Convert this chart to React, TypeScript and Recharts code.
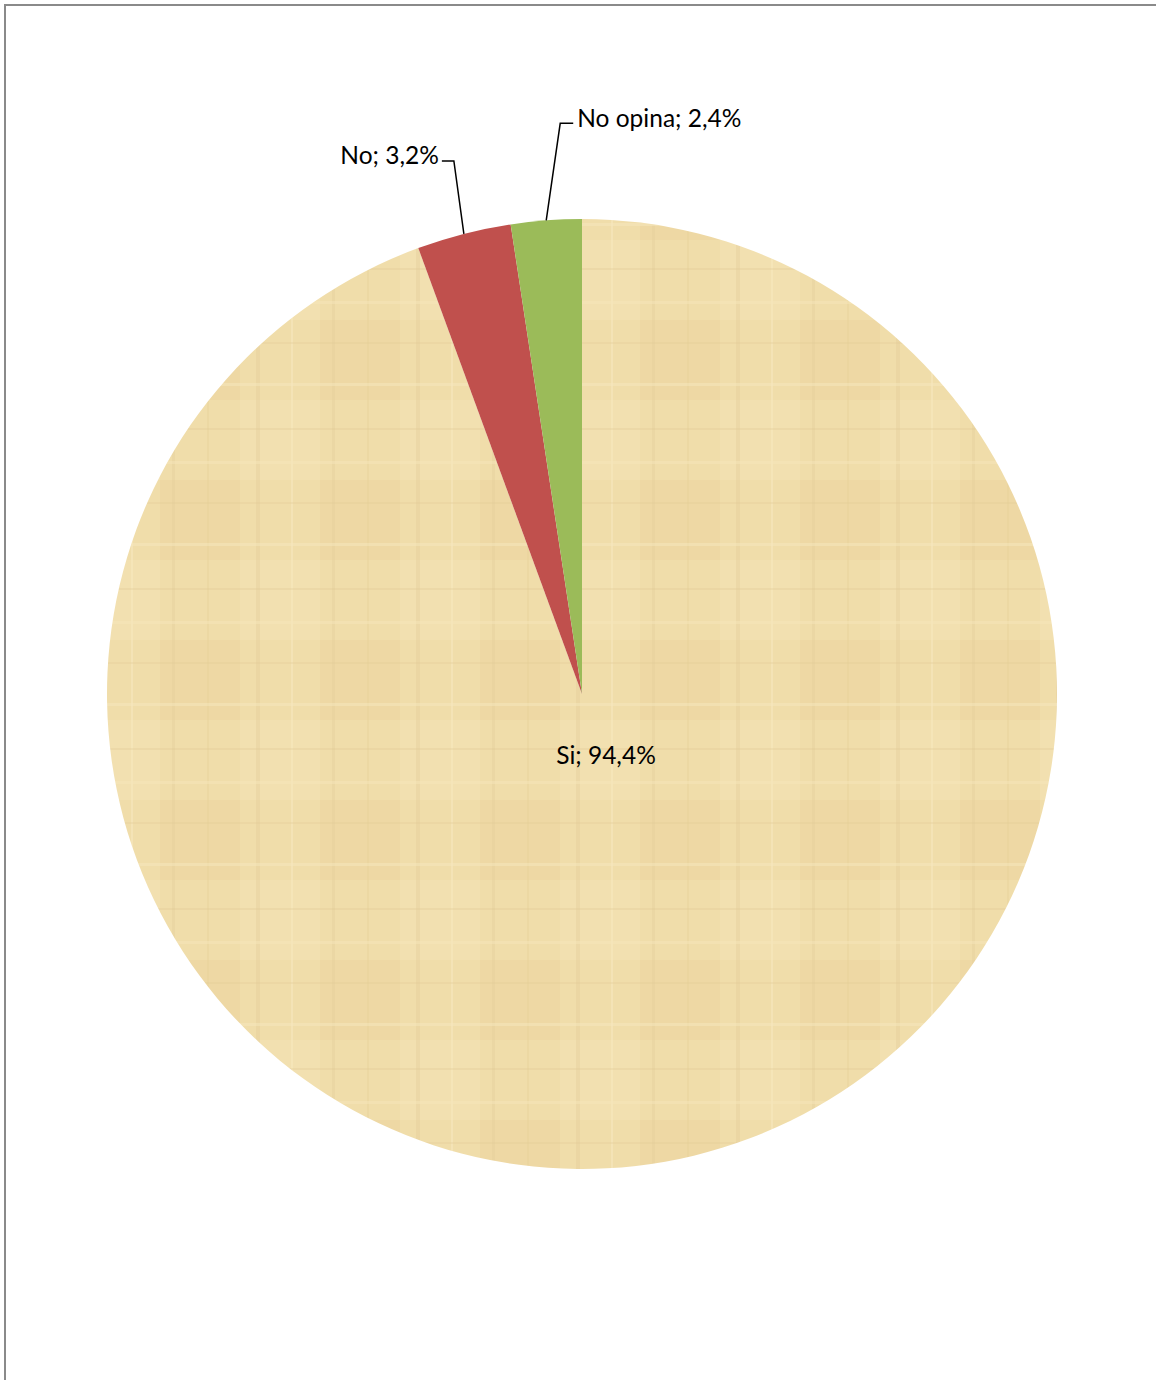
import React from "react";
import { PieChart, Pie, Cell } from "recharts";

const categories = ["Si", "No", "No opina"];
const values = [94.4, 3.2, 2.4];
const labels = ["Si; 94,4%", "No; 3,2%", "No opina; 2,4%"];
const colors = ["url(#papyrus)", "#C0504D", "#9BBB59"];

const data = categories.map((name, i) => ({ name, value: values[i], label: labels[i] }));

const RAD = Math.PI / 180;

const renderLabel = (props: any) => {
  const { cx, cy, midAngle, outerRadius, index } = props;
  const font = { fontFamily: "Lato, 'Open Sans', sans-serif", fontSize: 24.5, fill: "#000" };
  if (index === 0) {
    return (
      <text x={cx + 24} y={cy + 60} textAnchor="middle" dominantBaseline="central" {...font}>
        {labels[index]}
      </text>
    );
  }
  const ex = cx + outerRadius * Math.cos(-midAngle * RAD);
  const ey = cy + outerRadius * Math.sin(-midAngle * RAD);
  const right = index === 2;
  const elbowDx = right ? 14 : -10;
  const elbowDy = right ? -97 : -73;
  const endDx = right ? 27 : -22;
  const mx = ex + elbowDx;
  const my = ey + elbowDy;
  const tx = ex + endDx;
  return (
    <g>
      <polyline points={`${ex},${ey} ${mx},${my} ${tx},${my}`} fill="none" stroke="#000" strokeWidth={1.5} />
      <text x={right ? tx + 4 : tx - 3} y={my - 6} textAnchor={right ? "start" : "end"} dominantBaseline="central" {...font}>
        {labels[index]}
      </text>
    </g>
  );
};

export default function App() {
  return (
    <div style={{ position: "absolute", left: 0, top: 0, width: 1156, height: 1380, overflow: "hidden", background: "#fff" }}>
      <div style={{ position: "absolute", left: 4, top: 4, width: 1200, height: 1420, borderLeft: "2px solid #8a8a8a", borderTop: "2px solid #8a8a8a" }} />
      <div style={{ position: "absolute", left: 0, top: 0 }}>
        <PieChart width={1156} height={1380} margin={{ top: 0, right: 0, bottom: 0, left: 0 }}>
          <defs>
            <pattern id="papyrus" patternUnits="userSpaceOnUse" width="160" height="160">
              <rect x="0" y="0" width="160" height="160" fill="#F0DDAA" />
              <rect x="0" y="0" width="80" height="80" fill="#ECD6A0" opacity="0.6" />
              <rect x="80" y="80" width="80" height="80" fill="#F3E2B2" opacity="0.7" />
              <rect x="12" y="0" width="3" height="160" fill="#E2CC96" opacity="0.35" />
              <rect x="47" y="0" width="2" height="160" fill="#E6CF98" opacity="0.4" />
              <rect x="96" y="0" width="4" height="160" fill="#E0C992" opacity="0.3" />
              <rect x="131" y="0" width="2" height="160" fill="#F6E8BE" opacity="0.6" />
              <rect x="0" y="22" width="160" height="2" fill="#E2CC96" opacity="0.3" />
              <rect x="0" y="63" width="160" height="3" fill="#F6E8BE" opacity="0.5" />
              <rect x="0" y="108" width="160" height="2" fill="#E0C992" opacity="0.3" />
              <rect x="0" y="141" width="160" height="3" fill="#F5E6BA" opacity="0.5" />
            </pattern>
          </defs>
          <Pie
            data={data}
            dataKey="value"
            nameKey="name"
            cx={582}
            cy={694}
            outerRadius={475}
            startAngle={90}
            endAngle={-270}
            stroke="none"
            isAnimationActive={false}
            label={renderLabel}
            labelLine={false}
          >
            {data.map((d, i) => (
              <Cell key={d.name} fill={colors[i]} />
            ))}
          </Pie>
        </PieChart>
      </div>
    </div>
  );
}
